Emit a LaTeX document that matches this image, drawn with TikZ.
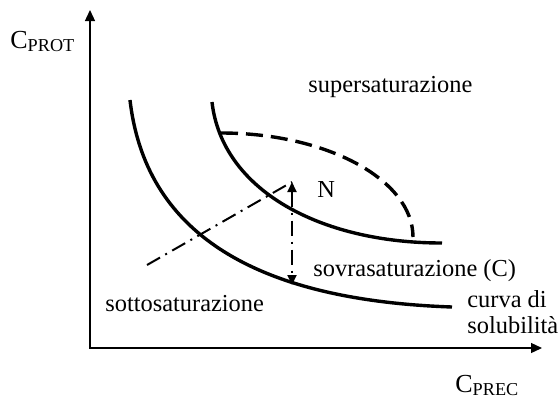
\documentclass[tikz,border=0pt]{standalone}
\usepackage{fontspec}
\setmainfont{Liberation Serif}
\usetikzlibrary{arrows.meta}

\begin{document}
\begin{tikzpicture}[
    x=0.5pt,
    y=-0.5pt,
    font=\fontsize{12.2}{13}\selectfont,
    lbl/.style={anchor=base west, inner sep=0pt},
    big/.style={font=\fontsize{13}{14}\selectfont},
    axis/.style={line width=0.65pt, {Triangle[length=5.5pt,width=5pt]}-{Triangle[length=5.5pt,width=5pt]}},
    curve/.style={line width=1.7pt},
    limit/.style={line width=1.7pt, dash pattern=on 8.5pt off 4pt},
    route/.style={line width=1pt, dash pattern=on 7.5pt off 3pt on 1pt off 3pt},
  ]
  \useasboundingbox (0,0) rectangle (558,398);
  % axes
  \coordinate (ytop) at (90,10);
  \coordinate (xend) at (542,348);
  \draw[axis] (ytop) |- (xend);
  \node[lbl, big] (cprot) at (10,48) {C\textsubscript{PROT}};
  \node[lbl, big] (cprec) at (455,392) {C\textsubscript{PREC}};
  % curva di solubilita
  \coordinate (s1) at (130,100);
  \coordinate (s2) at (452,307);
  \draw[curve] (s1) .. controls (145,230) and (250,300) .. (s2);
  % curva di sovrasaturazione
  \coordinate (c1) at (212,102);
  \coordinate (c2) at (442,243);
  \draw[curve] (c1) .. controls (222,190) and (320,243) .. (c2);
  % limite di nucleazione
  \coordinate (d1) at (221,133);
  \coordinate (d2) at (413,237);
  \draw[limit] (d1) .. controls (327,133) and (413,180) .. (d2);
  % percorso
  \coordinate (start) at (147,265);
  \coordinate (nuc) at (292,182);
  \coordinate (drop) at (292,285);
  \draw[route] (start) -- (nuc);
  \draw[route, {Triangle[length=5pt,width=4.5pt]}-{Triangle[length=5pt,width=4.5pt]}] (nuc) -- (drop);
  % regioni
  \node[lbl] (super) at (308,92) {supersaturazione};
  \node[lbl] (n) at (317,197) {N};
  \node[lbl] (sovra) at (313,276) {sovrasaturazione (C)};
  \node[lbl] (sotto) at (105,311) {sottosaturazione};
  \node[anchor=north west, inner sep=0pt, align=left] (solub) at (467,290) {curva di\\solubilità};
\end{tikzpicture}
\end{document}
